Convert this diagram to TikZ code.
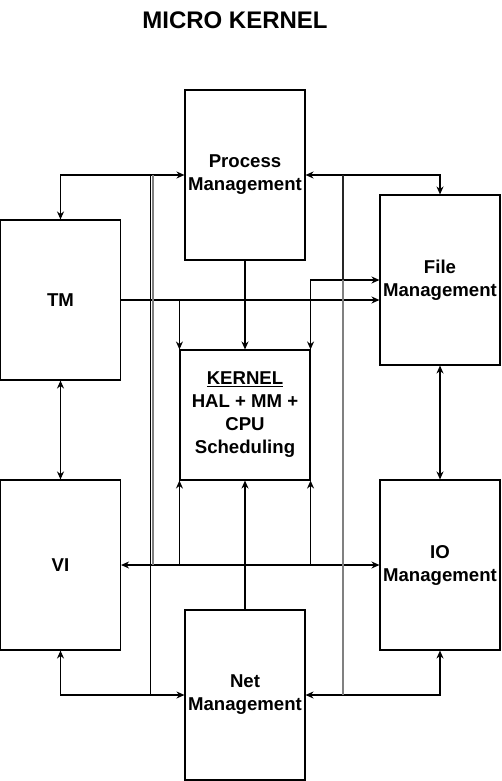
\documentclass[tikz,border=0pt]{standalone}
\usepackage{fontspec}
\setmainfont{Liberation Sans}
\usetikzlibrary{arrows.meta,positioning,calc}

\begin{document}
\begin{tikzpicture}[x=1pt, y=-1pt, line width=1.1pt,
    every node/.style={font=\bfseries\fontsize{18.6}{23}\selectfont},
    block/.style={draw, align=center, inner sep=0pt},
    link/.style={{Stealth[length=8pt,width=7pt]}-{Stealth[length=8pt,width=7pt]}},
    feed/.style={-{Stealth[length=8pt,width=7pt]}}]
  \useasboundingbox (0,0) rectangle (501,781);
  % title
  \node (title) at (235,20) {\fontsize{24}{28}\selectfont MICRO KERNEL};
  % the seven blocks
  \node[block, minimum width=120, minimum height=170] (pm) at (245,175) {Process\\Management};
  \node[block, minimum width=120, minimum height=160] (tm) at (60.5,300) {TM};
  \node[block, minimum width=120, minimum height=170] (fm) at (440,280) {File\\Management};
  \node[block, minimum width=130, minimum height=130] (kern) at (245,415) {\underline{KERNEL}\\HAL + MM +\\CPU\\Scheduling};
  \node[block, minimum width=120, minimum height=170] (vi) at (60.5,565) {VI};
  \node[block, minimum width=120, minimum height=170] (io) at (440,565) {IO\\Management};
  \node[block, minimum width=120, minimum height=170] (net) at (245,695) {Net\\Management};
  % links round the kernel
  \draw[link] (tm.north) |- (pm.west);
  \draw[link] (pm.east) -| (fm.north);
  \draw[feed] (pm.south) -- (kern.north);
  \draw[feed] (tm.east) -- (fm.west |- tm.east);
  \draw[feed] (kern.north west |- tm.east) -- (kern.north west);
  \draw[link] (fm.west) -| (kern.north east);
  \draw[link] (tm.south) -- (vi.north);
  \draw[link] (fm.south) -- (io.north);
  \draw[link] (vi.east) -- (io.west);
  \draw[feed] (kern.south west |- vi.east) -- (kern.south west);
  \draw[feed] (kern.south east |- io.west) -- (kern.south east);
  \draw[feed] (net.north) -- (kern.south);
  \draw[link] (vi.south) |- (net.west);
  \draw[link] (net.east) -| (io.south);
  % vertical bus lines
  \coordinate (lt) at (150.5,175);
  \coordinate (lb) at (150.5,695);
  \coordinate (rt) at (343,175);
  \coordinate (rb) at (343,695);
  \draw[gray, line width=1.6pt] ($(lt)+(2.4,0)$) -- ($(lt |- vi.east)+(2.4,0)$);
  \draw (lt) -- (lb);
  \draw[gray, line width=1.6pt] (rt) -- (rb);
  \draw[black!85, line width=1.6pt] (rt) -- (rt |- fm.west);
\end{tikzpicture}
\end{document}
